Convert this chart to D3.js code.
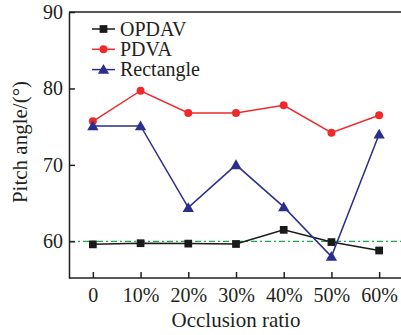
<html>
<head>
	<script src="https://d3js.org/d3.v7.min.js"></script>
</head>
<body style="margin:0; background:#fff">
	<script>
		var categories = ["0", "10%", "20%", "30%", "40%", "50%", "60%"];
		var opdav = [59.6, 59.75, 59.7, 59.65, 61.5, 59.9, 58.8];
		var pdva = [75.7, 79.7, 76.8, 76.8, 77.8, 74.2, 76.5];
		var rectangle = [75.1, 75.1, 64.4, 70.0, 64.5, 58.0, 74.0];
		var yTicks = [60, 70, 80, 90];
		var refLine = 60;

		var serif = "Liberation Serif";
		var ink = "#231f20";

		var series = [
			{ name: "OPDAV", values: opdav, color: "#1a1a1a", symbol: d3.symbolSquare, size: 60 },
			{ name: "PDVA", values: pdva, color: "#ee2a2a", symbol: d3.symbolCircle, size: 50 },
			{ name: "Rectangle", values: rectangle, color: "#2b2e8c", symbol: d3.symbolTriangle, size: 55 }
		];

		var outerWidth = 401, outerHeight = 335;
		var margin = { left: 69, top: 12, right: 0, bottom: 57 };
		var innerWidth = outerWidth - margin.left - margin.right;
		var innerHeight = outerHeight - margin.top - margin.bottom;
		var plotWidth = 334;

		var svg = d3.select("body").append("svg")
			.attr("width", outerWidth)
			.attr("height", outerHeight);

		var g = svg.append("g")
			.attr("transform", "translate(" + margin.left + "," + margin.top + ")");

		var xScale = d3.scalePoint().domain(categories).range([0, plotWidth]).padding(0.5);
		var yScale = d3.scaleLinear().domain([55.2, 90]).range([innerHeight, 0]);

		// reference line
		g.append("line")
			.attr("x1", 0).attr("x2", innerWidth)
			.attr("y1", yScale(refLine)).attr("y2", yScale(refLine))
			.attr("stroke", "#1aa84a")
			.attr("stroke-width", 1.2)
			.attr("stroke-dasharray", "6,3,2,3");

		// axes
		var xAxisG = g.append("g")
			.attr("transform", "translate(0," + innerHeight + ")")
			.call(d3.axisBottom(xScale).tickSize(-6).tickSizeOuter(0).tickPadding(10));
		var yAxisG = g.append("g")
			.call(d3.axisLeft(yScale).tickValues(yTicks).tickSize(-6).tickSizeOuter(0).tickPadding(6));

		xAxisG.select(".domain").attr("d", "M0,0H" + innerWidth);

		[xAxisG, yAxisG].forEach(function(a) {
			a.attr("font-family", serif);
			a.select(".domain").attr("stroke", ink).attr("stroke-width", 1.5);
			a.selectAll(".tick line").attr("stroke", ink).attr("stroke-width", 1.5);
			a.selectAll(".tick text")
				.style("font-family", serif)
				.style("font-size", "20px")
				.attr("fill", ink);
		});

		// top border
		g.append("line")
			.attr("x1", 0).attr("x2", innerWidth)
			.attr("y1", 0).attr("y2", 0)
			.attr("stroke", ink).attr("stroke-width", 1.5);

		var line = d3.line()
			.x(function(d, i) { return xScale(categories[i]); })
			.y(function(d) { return yScale(d); });

		series.forEach(function(s) {
			g.append("path")
				.attr("d", line(s.values))
				.attr("fill", "none")
				.attr("stroke", s.color)
				.attr("stroke-width", 1.5);
			g.selectAll(null).data(s.values).enter().append("path")
				.attr("d", d3.symbol().type(s.symbol).size(s.size))
				.attr("transform", function(d, i) {
					var dy = s.symbol === d3.symbolTriangle ? 1 : 0;
					return "translate(" + xScale(categories[i]) + "," + (yScale(d) + dy) + ")";
				})
				.attr("fill", s.color);
		});

		// legend
		var legend = g.append("g").attr("transform", "translate(23,17)");
		series.forEach(function(s, i) {
			var row = legend.append("g").attr("transform", "translate(0," + (i * 20.3) + ")");
			row.append("line").attr("x1", 0).attr("x2", 23).attr("y1", 0).attr("y2", 0)
				.attr("stroke", s.color).attr("stroke-width", 1.5);
			row.append("path")
				.attr("d", d3.symbol().type(s.symbol).size(s.size))
				.attr("transform", "translate(11.5," + (s.symbol === d3.symbolTriangle ? 1 : 0) + ")")
				.attr("fill", s.color);
			row.append("text").attr("x", 28).attr("y", 6.5)
				.style("font-family", serif).style("font-size", "20px")
				.attr("fill", ink).text(s.name);
		});

		// axis titles
		svg.append("text")
			.attr("x", margin.left + xScale("30%")).attr("y", 327)
			.attr("text-anchor", "middle")
			.style("font-family", serif).style("font-size", "21px")
			.attr("fill", ink).text("Occlusion ratio");
		svg.append("text")
			.attr("transform", "translate(27,142) rotate(-90)")
			.attr("text-anchor", "middle")
			.style("font-family", serif).style("font-size", "21px")
			.attr("fill", ink).text("Pitch angle/(°)");
	</script>
</body>
</html>
